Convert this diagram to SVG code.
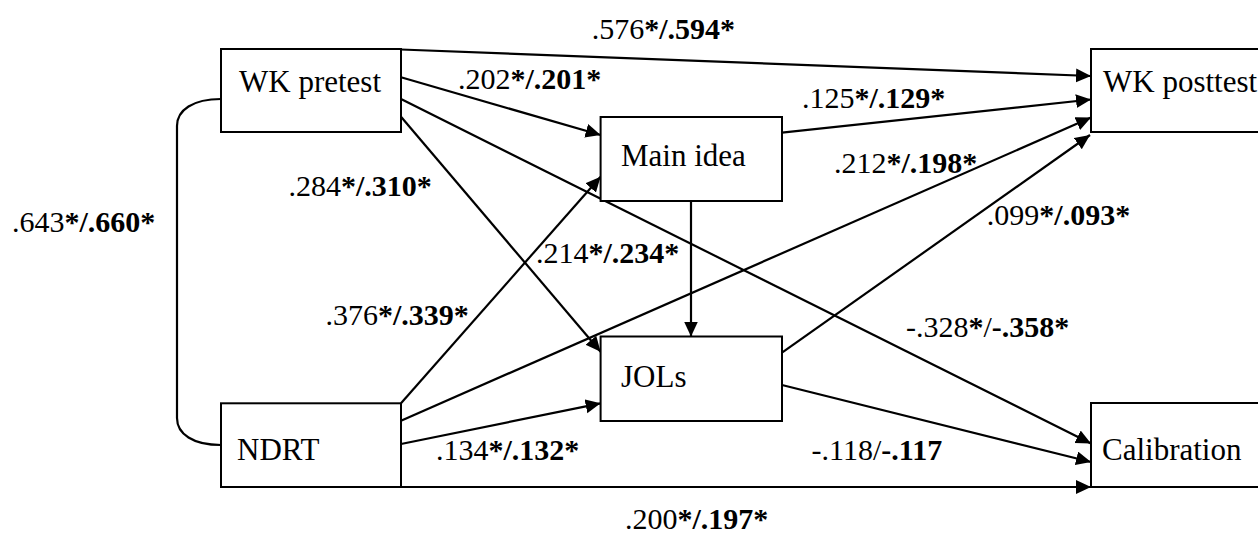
<svg xmlns="http://www.w3.org/2000/svg" width="1258" height="541" viewBox="0 0 1258 541">
<style>
  .box { fill: #fff; stroke: #000; stroke-width: 2; }
  .node { font-size: 31px; fill: #000; }
  .lbl { font-size: 30px; fill: #000; }
  .b { font-weight: bold; }
  .edge { fill: none; stroke: #000; stroke-width: 2.2; }
  .arr { marker-end: url(#ah); }
</style>
<defs>
  <marker id="ah" markerUnits="userSpaceOnUse" markerWidth="16" markerHeight="15" refX="15" refY="7" orient="auto" viewBox="0 0 16 15">
    <path d="M0,0 L15,7 L0,14 z" fill="#000"/>
  </marker>
</defs>
<rect width="1258" height="541" fill="#fff"/>

<g id="connectors">
  <path class="edge" d="M221,99 C193,99 177,110 177,126 L177,418 C177,434 193,445 221,445"/>
  <path class="edge arr" d="M401,49.5 L1091,76"/>
  <path class="edge arr" d="M401,77.3 L600.6,135"/>
  <path class="edge arr" d="M401,116.7 L600.6,351.7"/>
  <path class="edge arr" d="M401,99 L1091,443.5"/>
  <path class="edge arr" d="M782,132.7 L1091,99.5"/>
  <path class="edge arr" d="M691,201 L691,336.5"/>
  <path class="edge arr" d="M401,403.3 L600.6,176.7"/>
  <path class="edge arr" d="M401,420.7 L1091,117.5"/>
  <path class="edge arr" d="M401,444 L600.6,403.3"/>
  <path class="edge arr" d="M401,487 L1091,487"/>
  <path class="edge arr" d="M782,352.7 L1090,135"/>
  <path class="edge arr" d="M782,385 L1091,462"/>
</g>

<g font-family="Liberation Serif, DejaVu Serif, serif">
<g id="wk-pretest">
  <rect class="box" x="221" y="49" width="180" height="83"/>
  <text class="node" x="239" y="92">WK pretest</text>
</g>
<g id="wk-posttest">
  <rect class="box" x="1091" y="49" width="190" height="83"/>
  <text class="node" x="1103" y="92">WK posttest</text>
</g>
<g id="main-idea">
  <rect class="box" x="600.6" y="117" width="181.4" height="84"/>
  <text class="node" x="621" y="166">Main idea</text>
</g>
<g id="jols">
  <rect class="box" x="600.6" y="336.5" width="181.4" height="84.5"/>
  <text class="node" x="621" y="387">JOLs</text>
</g>
<g id="ndrt">
  <rect class="box" x="221" y="403.3" width="180" height="83.7"/>
  <text class="node" x="237" y="460">NDRT</text>
</g>
<g id="calibration">
  <rect class="box" x="1091" y="403" width="190" height="84"/>
  <text class="node" x="1102" y="460">Calibration</text>
</g>

<g id="labels">
  <text class="lbl" x="591.7" y="39.3">.576<tspan class="b">*/.594*</tspan></text>
  <text class="lbl" x="458" y="89.3">.202<tspan class="b">*/.201*</tspan></text>
  <text class="lbl" x="802" y="108.3">.125<tspan class="b">*/.129*</tspan></text>
  <text class="lbl" x="288.5" y="196">.284<tspan class="b">*/.310*</tspan></text>
  <text class="lbl" x="834" y="173.3">.212<tspan class="b">*/.198*</tspan></text>
  <text class="lbl" x="12" y="231.7">.643<tspan class="b">*/.660*</tspan></text>
  <text class="lbl" x="986.8" y="225">.099<tspan class="b">*/.093*</tspan></text>
  <text class="lbl" x="536" y="263.3">.214<tspan class="b">*/.234*</tspan></text>
  <text class="lbl" x="325.4" y="325">.376<tspan class="b">*/.339*</tspan></text>
  <text class="lbl" x="906" y="337">-.328<tspan class="b">*</tspan>/<tspan class="b">-.358*</tspan></text>
  <text class="lbl" x="436" y="460">.134<tspan class="b">*/.132*</tspan></text>
  <text class="lbl" x="811.6" y="460">-.118/<tspan class="b">-.117</tspan></text>
  <text class="lbl" x="625" y="529.3">.200<tspan class="b">*/.197*</tspan></text>
</g>
</g>
</svg>
